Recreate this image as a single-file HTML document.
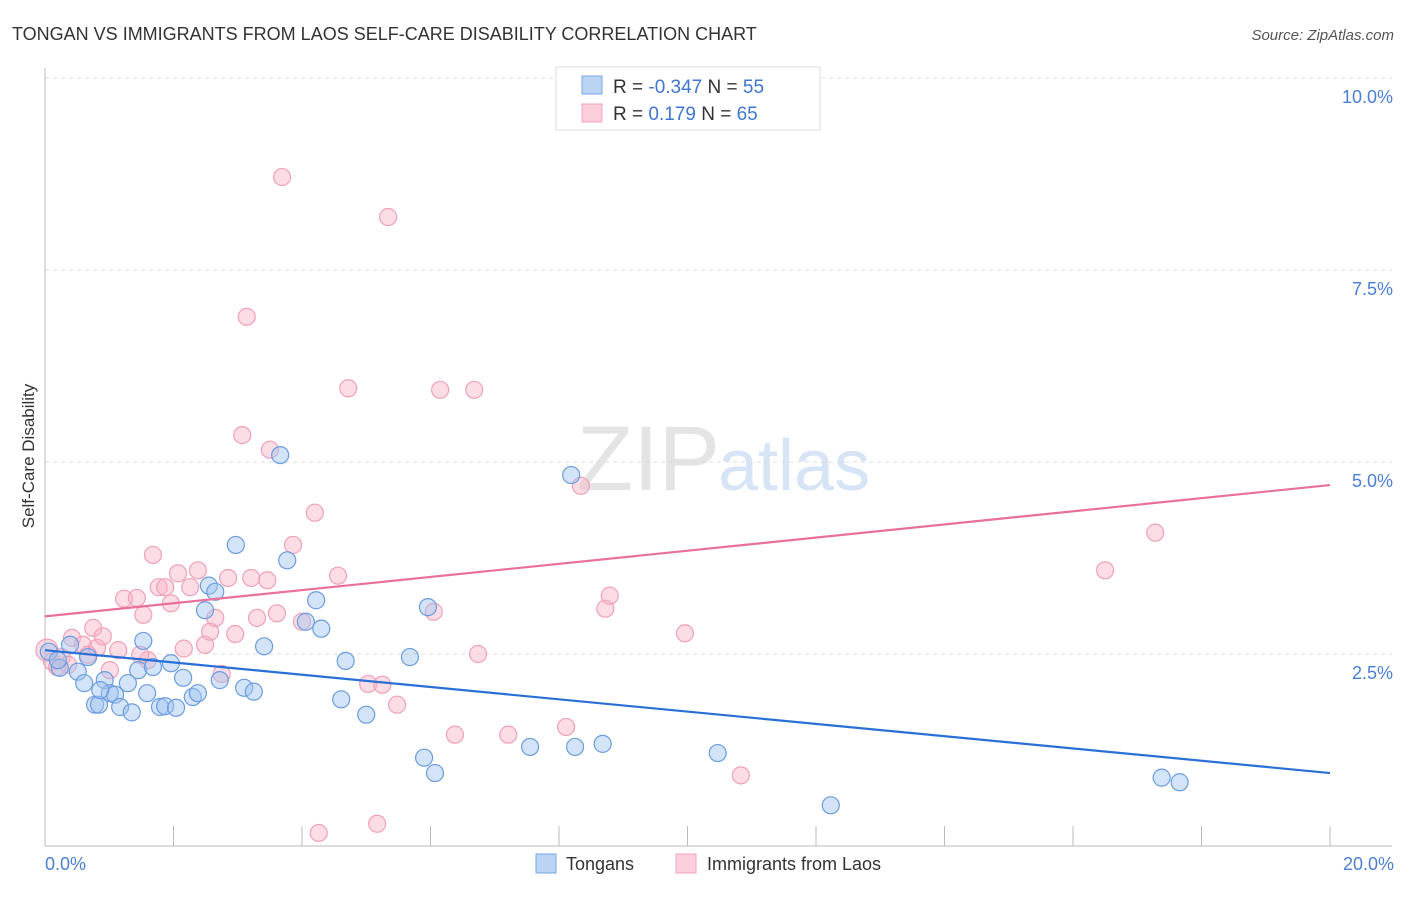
<!DOCTYPE html>
<html><head><meta charset="utf-8"><style>
body{margin:0;background:#fff;font-family:"Liberation Sans",sans-serif;}
svg text{font-family:"Liberation Sans",sans-serif;}
</style></head><body>
<svg width="1406" height="892">
<text x="12" y="40" font-size="18" fill="#333">TONGAN VS IMMIGRANTS FROM LAOS SELF-CARE DISABILITY CORRELATION CHART</text>
<text x="1394" y="40" font-size="15" fill="#555" font-style="italic" text-anchor="end">Source: ZipAtlas.com</text>
<text x="720" y="490" font-size="92" fill="#e4e4e4" text-anchor="end" font-family="Liberation Serif">ZIP</text>
<text x="718" y="490" font-size="72" fill="#d6e4f5">atlas</text>
<g id="grid"></g>
<g id="axes"></g>
<g id="marks"></g>
<text x="34" y="456" font-size="17" fill="#333" text-anchor="middle" transform="rotate(-90 34 456)">Self-Care Disability</text>
<text x="45" y="870" font-size="18" fill="#4a7fd4">0.0%</text>
<text x="1394" y="870" font-size="18" fill="#4a7fd4" text-anchor="end">20.0%</text>
<g>
<rect x="556" y="67" width="264" height="63" fill="#fff" stroke="#ddd"/>
<rect x="582" y="76" width="20" height="18" fill="#bcd4f4" stroke="#7aa6e4"/>
<rect x="582" y="104" width="20" height="18" fill="#fbd0dc" stroke="#f0a4bc"/>
<text x="613" y="93" font-size="19" fill="#333">R = <tspan fill="#3f76d0">-0.347</tspan>    N = <tspan fill="#3f76d0">55</tspan></text>
<text x="613" y="120" font-size="19" fill="#333">R =    <tspan fill="#3f76d0">0.179</tspan>    N = <tspan fill="#3f76d0">65</tspan></text>
</g>
<g>
<rect x="536" y="854" width="20" height="19" fill="#bcd4f4" stroke="#7aa6e4"/>
<text x="566" y="870" font-size="18" fill="#333">Tongans</text>
<rect x="676" y="854" width="20" height="19" fill="#fbd0dc" stroke="#f0a4bc"/>
<text x="707" y="870" font-size="18" fill="#333">Immigrants from Laos</text>
</g>
</svg>
<script>
const yTicks=[2.5,5.0,7.5,10.0];
const yTickLabels=["2.5%","5.0%","7.5%","10.0%"];
const xTicks=[0,2,4,6,8,10,12,14,16,18,20];
const blueX=[0.06,0.23,0.39,0.51,0.61,0.67,0.78,0.84,0.93,1.01,1.09,1.17,1.29,1.35,1.45,1.53,1.59,1.68,1.79,1.87,1.96,2.04,2.15,2.30,2.38,2.49,2.55,2.65,2.72,2.97,3.10,3.25,3.41,3.66,3.77,4.06,4.22,4.30,4.68,4.61,5.00,5.68,5.90,5.96,6.07,7.55,8.19,8.25,8.68,10.47,12.23,17.38,17.66,0.20,0.86];
const blueY=[2.53,2.32,2.62,2.27,2.12,2.46,1.84,1.84,2.16,1.99,1.97,1.81,2.12,1.74,2.29,2.67,1.99,2.33,1.81,1.82,2.38,1.80,2.19,1.94,1.99,3.07,3.39,3.31,2.16,3.92,2.06,2.01,2.60,5.09,3.72,2.92,3.20,2.83,2.41,1.91,1.71,2.46,1.15,3.11,0.95,1.29,4.83,1.29,1.33,1.21,0.53,0.89,0.83,2.42,2.03];
const pinkX=[0.03,0.11,0.26,0.36,0.42,0.59,0.75,0.81,0.90,1.01,1.14,1.23,1.43,1.53,1.60,1.68,1.77,1.87,1.96,2.07,2.16,2.26,2.38,2.49,2.57,2.65,2.75,2.85,2.96,3.07,3.14,3.21,3.30,3.46,3.50,3.61,3.69,3.86,4.00,4.20,4.26,4.56,4.72,5.03,5.17,5.25,5.34,5.48,6.05,6.15,6.38,6.68,6.74,7.21,8.11,8.34,8.72,8.79,9.96,10.83,16.50,17.28,0.19,0.67,1.48];
const pinkY=[2.55,2.40,2.46,2.36,2.71,2.62,2.84,2.58,2.73,2.29,2.55,3.22,3.23,3.01,2.42,3.79,3.37,3.37,3.16,3.55,2.57,3.37,3.59,2.62,2.79,2.97,2.24,3.49,2.76,5.35,6.89,3.49,2.97,3.46,5.16,3.03,8.71,3.92,2.92,4.34,0.17,3.52,5.96,2.11,0.29,2.10,8.19,1.84,3.05,5.94,1.45,5.94,2.50,1.45,1.55,4.69,3.09,3.26,2.77,0.92,3.59,4.08,2.33,2.49,2.49];
const blueTrend=[2.55,0.95];
const pinkTrend=[2.99,4.70];
const NS="http://www.w3.org/2000/svg";
const X=v=>45+v/20*1285;
const Y=v=>846-v*76.8;
function mk(tag,attrs,parent){const e=document.createElementNS(NS,tag);for(const k in attrs)e.setAttribute(k,attrs[k]);parent.appendChild(e);return e;}
const grid=document.getElementById('grid'),axes=document.getElementById('axes'),marks=document.getElementById('marks');
yTicks.forEach((t,i)=>{
 const l=mk('line',{x1:45,x2:1392,y1:Y(t),y2:Y(t),stroke:'#ddd','stroke-dasharray':'4 4'},grid);
 
 
 const tx=mk('text',{x:1393,y:Y(t)+25,'font-size':18,fill:'#4a7fd4','text-anchor':'end'},grid);
 tx.textContent=yTickLabels[i];
 
 
});
const xa=mk('line',{x1:45,x2:1392,y1:846,y2:846,stroke:'#bbb'},axes);


const ya=mk('line',{x1:45,x2:45,y1:68,y2:846,stroke:'#bbb'},axes);


xTicks.forEach(t=>{
 const l=mk('line',{x1:X(t),x2:X(t),y1:826,y2:846,stroke:'#bbb'},axes);
 
 
});
function pts(xs,ys,fill,stroke,name){
 xs.forEach((x,i)=>{
  const c=mk('circle',{cx:X(x),cy:Y(ys[i]),r:(i===0&&name==='laos-point')?11:8.5,fill:fill,stroke:stroke,'stroke-width':1.2},marks);
  
  
 });
}
pts(pinkX,pinkY,'rgba(248,180,200,0.45)','#f0a0b8','laos-point');
pts(blueX,blueY,'rgba(160,195,240,0.45)','#6a9de0','tongan-point');
const bl=mk('line',{x1:X(0),y1:Y(blueTrend[0]),x2:X(20),y2:Y(blueTrend[1]),stroke:'#2970d6','stroke-width':2.2},marks);


const pl=mk('line',{x1:X(0),y1:Y(pinkTrend[0]),x2:X(20),y2:Y(pinkTrend[1]),stroke:'#e8709a','stroke-width':2.2},marks);


</script>
</body></html>
